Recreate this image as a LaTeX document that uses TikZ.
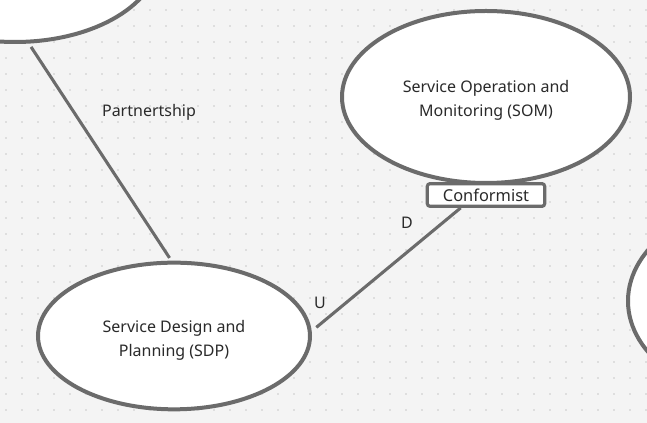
\documentclass[tikz,border=0pt]{standalone}
\usepackage{fontspec}
\setmainfont{Noto Sans}
\usetikzlibrary{shapes.geometric}

\definecolor{canvasgray}{HTML}{F4F4F4}
\definecolor{dotgray}{HTML}{C8C8C8}
\definecolor{edgegray}{HTML}{6B6B6B}
\definecolor{textgray}{HTML}{2A2A2A}

\tikzset{
    context/.style={ellipse, draw=edgegray, fill=white, line width=3pt, align=center,
        text=textgray, font=\fontsize{12}{18}\selectfont},
    relbox/.style={draw=edgegray, fill=white, line width=2.4pt, rounded corners=2pt,
        minimum width=88pt, minimum height=17pt, inner sep=0pt, text=textgray,
        font=\fontsize{12.3}{14}\selectfont},
    link/.style={draw=edgegray, line width=2.3pt},
    tag/.style={text=textgray, font=\fontsize{12}{14}\selectfont}
}

\begin{document}
\begin{tikzpicture}[x=0.75pt, y=-0.75pt]

    % canvas with dot grid
    \useasboundingbox (0,0) rectangle (647,423);
    \clip (0,0) rectangle (647,423);
    \fill[canvasgray] (0,0) rectangle (647,423);
    \foreach \i in {0,...,40}
        \foreach \j in {0,...,26}
            \fill[dotgray] (6+16*\i, 10+16*\j) circle (0.9);

    % contexts
    \node[context, minimum width=216pt, minimum height=129pt] (tl) at (15,-44) {};
    \node[context, minimum width=216pt, minimum height=150pt] (rt) at (772,301) {};
    \node[context, minimum width=216pt, minimum height=129pt] (som) at (486,97)
        {\rule{0pt}{14pt}Service Operation and\\Monitoring (SOM)};
    \node[context, minimum width=204pt, minimum height=110pt] (sdp) at (174,336)
        {\rule{0pt}{16pt}Service Design and\\Planning (SDP)};

    % relationship box
    \node[relbox] (conf) at (486,195) {Conformist};

    % connectors
    \draw[link, shorten <=3pt, shorten >=2.5pt] (tl.-81) -- (sdp.92);
    \draw[link, shorten >=4.5pt] (conf.-153) -- (sdp.2);

    % labels
    \node[tag] (partner) at (149,112) {Partnertship};
    \node[tag] (down) at (407,223) {D};
    \node[tag] (up) at (320,303) {U};

\end{tikzpicture}
\end{document}
